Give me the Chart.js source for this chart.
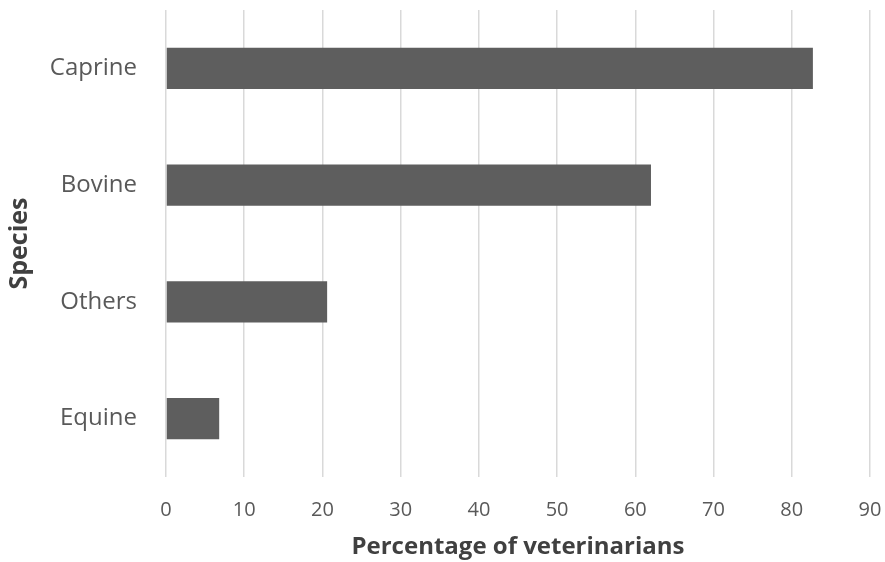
<!DOCTYPE html>
<html>
<head>
<meta charset="utf-8">
<script src="https://cdn.jsdelivr.net/npm/chart.js@4.4.1/dist/chart.umd.min.js"></script>
<style>
  html, body { margin: 0; padding: 0; background: #fff; }
  #wrap { width: 885px; height: 562px; }
</style>
</head>
<body>
<div id="wrap"><canvas id="speciesChart" width="885" height="562"></canvas></div>
<script>
// categories, top to bottom
const species = ['Caprine', 'Bovine', 'Others', 'Equine'];
// percentage of veterinarians
const percentages = [82.7, 62.0, 20.6, 6.8];
const xMin = 0;
const xMax = 90;
const xStep = 10;

const tickColor = '#595959';
const titleColor = '#404040';

const ctx = document.getElementById('speciesChart').getContext('2d');

new Chart(ctx, {
    type: 'bar',
    data: {
        labels: species,
        datasets: [{
            label: 'Percentage of veterinarians',
            data: percentages,
            backgroundColor: '#5e5e5e',
            borderWidth: 0,
            barPercentage: 0.352,
            categoryPercentage: 1.0
        }]
    },
    options: {
        indexAxis: 'y',
        responsive: false,
        animation: false,
        layout: {
            padding: { top: 10, right: 15, bottom: 0, left: 0 }
        },
        plugins: {
            legend: { display: false },
            tooltip: { enabled: false }
        },
        scales: {
            x: {
                min: xMin,
                max: xMax,
                ticks: {
                    stepSize: xStep,
                    color: tickColor,
                    padding: 21,
                    maxRotation: 0,
                    font: { family: 'Open Sans', size: 20 }
                },
                grid: {
                    color: '#d9d9d9',
                    lineWidth: 1.5,
                    drawTicks: false
                },
                border: { display: false },
                title: {
                    display: true,
                    text: 'Percentage of veterinarians',
                    color: titleColor,
                    padding: { top: 0, bottom: 0 },
                    font: { family: 'Open Sans', size: 24, weight: 'bold' }
                },
                afterFit: (scale) => {
                    scale.height = 85;
                    scale.paddingLeft = 0;
                    scale.paddingRight = 0;
                }
            },
            y: {
                ticks: {
                    color: tickColor,
                    padding: 29,
                    font: { family: 'Open Sans', size: 24 }
                },
                grid: { display: false, drawTicks: false },
                border: { display: false },
                title: {
                    display: true,
                    text: 'Species',
                    color: titleColor,
                    padding: { top: 5, bottom: 0 },
                    font: { family: 'Open Sans', size: 25, weight: 'bold' }
                },
                afterFit: (scale) => {
                    scale.width = 166;
                    scale.paddingTop = 0;
                    scale.paddingBottom = 0;
                }
            }
        }
    }
});
</script>
</body>
</html>
